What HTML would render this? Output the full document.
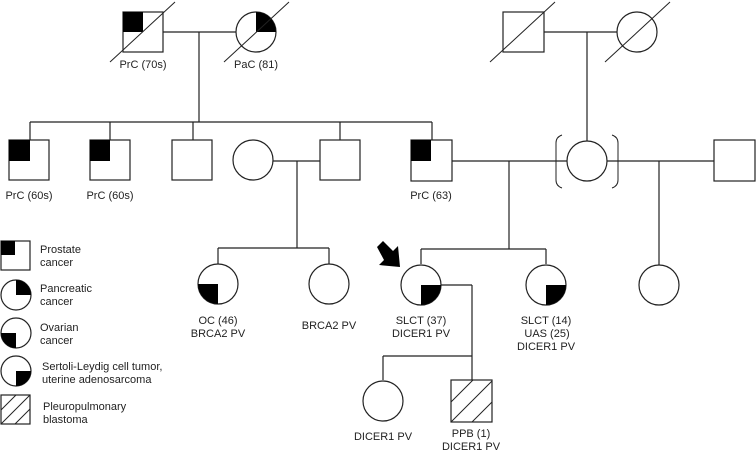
<!DOCTYPE html>
<html><head><meta charset="utf-8"><style>
html,body{margin:0;padding:0;background:#fff}
svg{display:block}
text{font-family:"Liberation Sans",Arial,sans-serif;font-size:11px;fill:#222}
</style></head><body>
<svg width="756" height="450" viewBox="0 0 756 450" xmlns="http://www.w3.org/2000/svg">
<g stroke="#222" stroke-width="1.2" fill="none">
<!-- gen1 left -->
<line x1="163" y1="32" x2="236" y2="32"/>
<line x1="199" y1="32" x2="199" y2="122"/>
<line x1="30" y1="122" x2="432" y2="122"/>
<line x1="30" y1="122" x2="30" y2="140"/>
<line x1="110" y1="122" x2="110" y2="140"/>
<line x1="193" y1="122" x2="193" y2="140"/>
<line x1="340" y1="122" x2="340" y2="140"/>
<line x1="432" y1="122" x2="432" y2="140"/>
<!-- gen1 right -->
<line x1="544" y1="32" x2="617" y2="32"/>
<line x1="587" y1="32" x2="587" y2="141"/>
<!-- gen2 couples -->
<line x1="273" y1="161" x2="320" y2="161"/>
<line x1="297" y1="161" x2="297" y2="248"/>
<line x1="218" y1="248" x2="329" y2="248"/>
<line x1="218" y1="248" x2="218" y2="264"/>
<line x1="329" y1="248" x2="329" y2="264"/>
<line x1="452" y1="161" x2="567" y2="161"/>
<line x1="509" y1="161" x2="509" y2="249"/>
<line x1="421" y1="249" x2="546" y2="249"/>
<line x1="421" y1="249" x2="421" y2="264"/>
<line x1="546" y1="249" x2="546" y2="264"/>
<line x1="607" y1="161" x2="714" y2="161"/>
<line x1="659" y1="161" x2="659" y2="265"/>
<!-- proband -->
<line x1="441" y1="285" x2="472" y2="285"/>
<line x1="472" y1="285" x2="472" y2="380"/>
<line x1="383" y1="356" x2="472" y2="356"/>
<line x1="383" y1="356" x2="383" y2="380"/>
</g>
<g stroke="#222" stroke-width="1.2" fill="#fff">
<!-- gen1 -->
<rect x="123" y="12" width="40" height="40"/>
<circle cx="256" cy="32" r="20"/>
<rect x="503" y="12" width="41" height="40"/>
<circle cx="637" cy="32" r="20"/>
<!-- gen2 -->
<rect x="9" y="140" width="40" height="40"/>
<rect x="90" y="140" width="40" height="40"/>
<rect x="172" y="140" width="40" height="40"/>
<circle cx="253" cy="160" r="20"/>
<rect x="320" y="140" width="40" height="40"/>
<rect x="411" y="140" width="41" height="41"/>
<circle cx="587" cy="161" r="20"/>
<rect x="714" y="140" width="41" height="41"/>
<!-- gen3 -->
<circle cx="218" cy="284" r="20"/>
<circle cx="329" cy="284" r="20"/>
<circle cx="421" cy="285" r="20"/>
<circle cx="546" cy="285" r="20"/>
<circle cx="659" cy="285" r="20"/>
<circle cx="383" cy="401" r="20"/>
<rect x="451" y="380" width="41" height="42"/>
<!-- legend -->
<rect x="1" y="241" width="29" height="29"/>
<circle cx="16" cy="295" r="15"/>
<circle cx="16" cy="333" r="15"/>
<circle cx="16" cy="371" r="15"/>
<rect x="1" y="395" width="29" height="29"/>
</g>
<g fill="#000" stroke="none">
<rect x="123" y="12" width="20" height="20"/>
<path d="M256 32 L256 12 A20 20 0 0 1 276 32 Z"/>
<rect x="9" y="140" width="21" height="21"/>
<rect x="90" y="140" width="20" height="21"/>
<rect x="411" y="140" width="20" height="21"/>
<path d="M218 284 L218 304 A20 20 0 0 1 198 284 Z"/>
<path d="M421 285 L441 285 A20 20 0 0 1 421 305 Z"/>
<path d="M546 285 L566 285 A20 20 0 0 1 546 305 Z"/>
<rect x="1" y="241" width="14" height="14"/>
<path d="M16 295 L16 280 A15 15 0 0 1 31 295 Z"/>
<path d="M16 333 L16 348 A15 15 0 0 1 1 333 Z"/>
<path d="M16 371 L31 371 A15 15 0 0 1 16 386 Z"/>
<!-- arrow -->
<path d="M377 247 L383 241 L393 251 L398 246 L400 267 L379 265 L384 260 Z"/>
</g>
<g stroke="#222" stroke-width="1" fill="none">
<!-- deceased slashes -->
<line x1="110" y1="62" x2="175" y2="2"/>
<line x1="224" y1="62" x2="289" y2="2"/>
<line x1="490" y1="62" x2="555" y2="2"/>
<line x1="605" y1="62" x2="670" y2="2"/>
<!-- brackets -->
<path d="M562 135 Q556 137 556 143 L556 180 Q556 186 562 188"/>
<path d="M612 135 Q618 137 618 143 L618 180 Q618 186 612 188"/>
<!-- PPB hatching -->
<line x1="451" y1="402" x2="473" y2="380"/>
<line x1="451" y1="422" x2="492" y2="381"/>
<line x1="472" y1="422" x2="492" y2="402"/>
<line x1="1" y1="410" x2="16" y2="395"/>
<line x1="1" y1="424" x2="30" y2="395"/>
<line x1="15" y1="424" x2="30" y2="409"/>
</g>
<g text-anchor="middle">
<text x="143" y="68">PrC (70s)</text>
<text x="256" y="68">PaC (81)</text>
<text x="29" y="199">PrC (60s)</text>
<text x="110" y="199">PrC (60s)</text>
<text x="431" y="199">PrC (63)</text>
<text x="218" y="324">OC (46)</text>
<text x="218" y="337">BRCA2 PV</text>
<text x="329" y="329">BRCA2 PV</text>
<text x="421" y="324">SLCT (37)</text>
<text x="421" y="337">DICER1 PV</text>
<text x="546" y="324">SLCT (14)</text>
<text x="547" y="337">UAS (25)</text>
<text x="546" y="350">DICER1 PV</text>
<text x="383" y="440">DICER1 PV</text>
<text x="471" y="437">PPB (1)</text>
<text x="471" y="450">DICER1 PV</text>
</g>
<g>
<text x="40" y="253">Prostate</text>
<text x="40" y="266">cancer</text>
<text x="40" y="292">Pancreatic</text>
<text x="40" y="305">cancer</text>
<text x="40" y="331">Ovarian</text>
<text x="40" y="344">cancer</text>
<text x="42" y="370">Sertoli-Leydig cell tumor,</text>
<text x="42" y="383">uterine adenosarcoma</text>
<text x="43" y="410">Pleuropulmonary</text>
<text x="43" y="423">blastoma</text>
</g>
</svg>
</body></html>
